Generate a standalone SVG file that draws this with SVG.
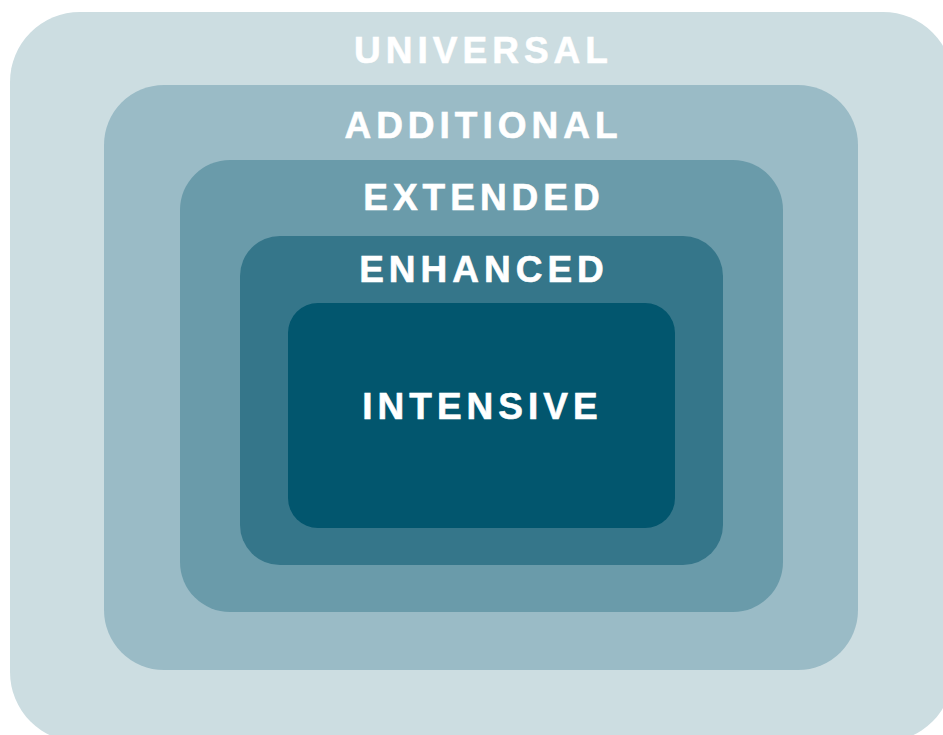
<svg xmlns="http://www.w3.org/2000/svg" width="943" height="735" viewBox="0 0 943 735">
<style>
.lbl{font-family:"Liberation Sans",Arial,sans-serif;font-weight:bold;font-size:37px;letter-spacing:5px;fill:#ffffff;stroke:#ffffff;stroke-width:0.6px;text-anchor:middle}
</style>
<rect width="943" height="735" fill="#ffffff"/>
<g id="universal">
<rect x="10" y="12" width="943" height="730" rx="70" ry="70" fill="#CCDDE1"/>
<text class="lbl" x="483.5" y="63">UNIVERSAL</text>
</g>
<g id="additional">
<rect x="104" y="85" width="754" height="585" rx="60" ry="60" fill="#9ABBC6"/>
<text class="lbl" x="483.5" y="138">ADDITIONAL</text>
</g>
<g id="extended">
<rect x="180" y="160" width="603" height="452" rx="50" ry="50" fill="#6A9BAA"/>
<text class="lbl" x="484" y="210">EXTENDED</text>
</g>
<g id="enhanced">
<rect x="240" y="236" width="483" height="329" rx="40" ry="40" fill="#35768A"/>
<text class="lbl" x="484" y="282">ENHANCED</text>
</g>
<g id="intensive">
<rect x="288" y="303" width="387" height="225" rx="30" ry="30" fill="#02566E"/>
<text class="lbl" x="482.5" y="419">INTENSIVE</text>
</g>
<g id="connectors"/>
</svg>
